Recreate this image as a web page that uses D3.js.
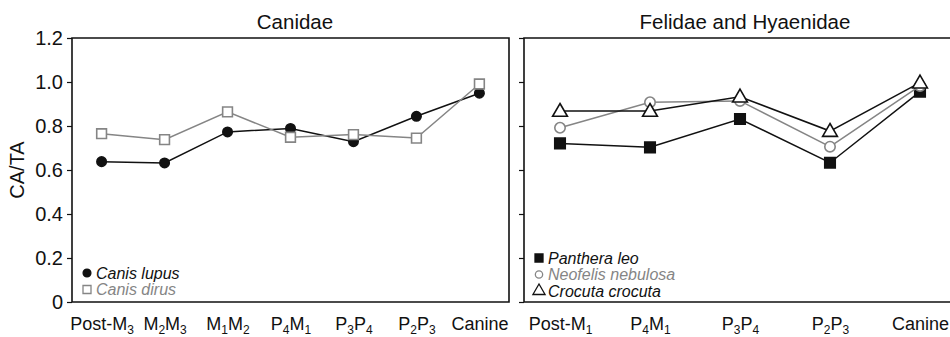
<!DOCTYPE html>
<html>
<head>
<meta charset="utf-8">
<script src="https://cdn.jsdelivr.net/npm/d3@7"></script>
<style>
  body { margin: 0; background: #fff; }
  text { font-family: "Liberation Sans", Arial, sans-serif; fill: #111; }
</style>
</head>
<body>
<svg id="chart"></svg>
<script>
// tick labels, "_" marks a subscript digit
const canidTeeth = ['Post-M_3', 'M_2M_3', 'M_1M_2', 'P_4M_1', 'P_3P_4', 'P_2P_3', 'Canine'];
const felidTeeth = ['Post-M_1', 'P_4M_1', 'P_3P_4', 'P_2P_3', 'Canine'];
const yTicks = [0, 0.2, 0.4, 0.6, 0.8, 1.0, 1.2];

// CA/TA values
const canisLupus = [0.638, 0.632, 0.773, 0.789, 0.729, 0.844, 0.949];
const canisDirus = [0.765, 0.738, 0.864, 0.749, 0.761, 0.745, 0.991];
const pantheraLeo = [0.721, 0.703, 0.832, 0.633, 0.956];
const neofelis = [0.792, 0.908, 0.914, 0.706, 0.982];
const crocuta = [0.868, 0.868, 0.933, 0.777, 0.997];

const w = 950, h = 337;
const plotTop = 38, plotBottom = 302;
const black = '#111', grey = '#858585';

const svg = d3.select('#chart').attr('width', w).attr('height', h);

const y = d3.scaleLinear().domain([0, 1.2]).range([plotBottom, plotTop]);

const panels = [
	{
		title: 'Canidae', titleX: 295, left: 72, right: 509, pad: 0.47, cats: canidTeeth, labels: true, frameRight: true,
		series: [
			{ name: 'Canis lupus', values: canisLupus, color: black, symbol: d3.symbolCircle, size: 70, fill: black, lsize: 48 },
			{ name: 'Canis dirus', values: canisDirus, color: grey, symbol: d3.symbolSquare, size: 95, fill: '#fff', lsize: 64 }
		],
		legendY: 273
	},
	{
		title: 'Felidae and Hyaenidae', titleX: 745, left: 524, right: 956, pad: 0.4, cats: felidTeeth, labels: false, frameRight: false,
		series: [
			{ name: 'Panthera leo', values: pantheraLeo, color: black, symbol: d3.symbolSquare, size: 110, fill: black, lsize: 64 },
			{ name: 'Neofelis nebulosa', values: neofelis, color: grey, symbol: d3.symbolCircle, size: 85, fill: '#fff', lsize: 42 },
			{ name: 'Crocuta crocuta', values: crocuta, color: black, symbol: d3.symbolTriangle, size: 95, fill: '#fff', lsize: 64 }
		],
		legendY: 258
	}
];

function subLabel(sel) {
	sel.each(function (d) {
		const t = d3.select(this).text('');
		let wasSub = false;
		d.split(/(_\d)/).filter(s => s).forEach(part => {
			if (part[0] === '_') {
				t.append('tspan').attr('font-size', '12px').attr('dy', 4).text(part.slice(1));
				wasSub = true;
			} else {
				const ts = t.append('tspan').text(part);
				if (wasSub) ts.attr('dy', -4);
				wasSub = false;
			}
		});
	});
}

panels.forEach(p => {
	const x = d3.scalePoint().domain(p.cats).range([p.left, p.right]).padding(p.pad);
	const g = svg.append('g');

	// y axis
	const yAxis = d3.axisLeft(y).tickValues(yTicks).tickSize(5).tickSizeOuter(0)
		.tickFormat(p.labels ? (d => d === 0 ? '0' : d.toFixed(1)) : '');
	const ya = g.append('g').attr('transform', `translate(${p.left},0)`).call(yAxis);
	ya.select('.domain').remove();
	ya.selectAll('line').attr('stroke', black).attr('stroke-width', 1.2);
	ya.selectAll('text').attr('font-size', '20px').attr('fill', black).attr('dx', -1).attr('font-family', null);

	// frame
	g.append('path')
		.attr('d', p.frameRight
			? `M${p.left},${plotTop}H${p.right}V${plotBottom}H${p.left}Z`
			: `M${p.right},${plotTop}H${p.left}V${plotBottom}H${p.right}`)
		.attr('fill', 'none').attr('stroke', black).attr('stroke-width', 1.6);

	// x axis labels
	const xa = g.append('g').attr('transform', `translate(0,${plotBottom})`)
		.call(d3.axisBottom(x).tickSize(0).tickPadding(15));
	xa.select('.domain').remove();
	xa.selectAll('text').attr('font-size', '18px').attr('fill', black).attr('font-family', null).call(subLabel);

	// title
	g.append('text')
		.attr('x', p.titleX)
		.attr('y', 29)
		.attr('text-anchor', 'middle')
		.attr('font-size', '20.5px')
		.text(p.title);

	const line = d3.line().x((d, i) => x(p.cats[i])).y(d => y(d));

	p.series.forEach((s, k) => {
		g.append('path').datum(s.values)
			.attr('d', line)
			.attr('fill', 'none')
			.attr('stroke', s.color)
			.attr('stroke-width', 1.5);

		g.selectAll(null).data(s.values).enter().append('path')
			.attr('transform', (d, i) => `translate(${x(p.cats[i])},${y(d) + (s.symbol === d3.symbolTriangle ? 1 : 0)})`)
			.attr('d', d3.symbol().type(s.symbol).size(s.size))
			.attr('fill', s.fill)
			.attr('stroke', s.color)
			.attr('stroke-width', 1.6);

		// legend
		const ly = p.legendY + k * 16.5;
		g.append('path')
			.attr('transform', `translate(${p.left + 15},${ly})`)
			.attr('d', d3.symbol().type(s.symbol).size(s.lsize))
			.attr('fill', s.fill)
			.attr('stroke', s.color)
			.attr('stroke-width', 1.3);
		g.append('text')
			.attr('x', p.left + 24)
			.attr('y', ly + 5.5)
			.attr('font-size', '16px')
			.attr('font-style', 'italic')
			.style('fill', s.color)
			.text(s.name);
	});
});

// y axis title
svg.append('text')
	.attr('transform', `translate(24,${(plotTop + plotBottom) / 2}) rotate(-90)`)
	.attr('text-anchor', 'middle')
	.attr('font-size', '20px')
	.text('CA/TA');
</script>
</body>
</html>
